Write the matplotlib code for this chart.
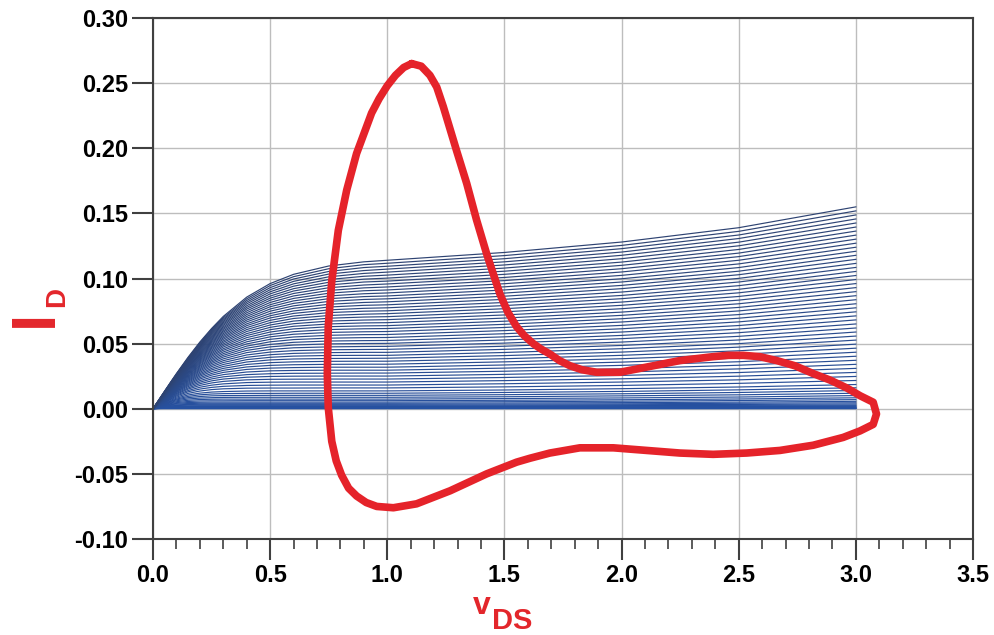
import matplotlib
matplotlib.use('Agg')
import matplotlib.pyplot as plt
from matplotlib.colors import to_rgb
from matplotlib.ticker import MultipleLocator, FormatStrFormatter

plt.rcParams['font.family'] = ['Liberation Sans', 'DejaVu Sans']
plt.rcParams['axes.unicode_minus'] = False

# drain voltage points (V)
vds = [0, 0.025, 0.05, 0.075, 0.1, 0.15, 0.2, 0.25, 0.3, 0.4, 0.5, 0.6, 0.75, 0.9,
       1.0, 1.5, 2.0, 2.5, 3.0]

# drain current of each curve, in units of 0.1 mA (lowest curves -> thick band near zero)
id_band = [
    [0, 1, 1, 1, 1, 1, 1, 1, 1, 1, 1, 1, 1, 1, 1, 1, 1, 1, 1],
    [0, 2, 2, 2, 2, 2, 2, 2, 2, 2, 2, 2, 2, 2, 2, 2, 2, 2, 2],
    [0, 2, 3, 3, 3, 3, 3, 3, 3, 3, 3, 3, 3, 3, 3, 3, 3, 3, 4],
    [0, 3, 4, 4, 4, 4, 4, 4, 4, 4, 4, 4, 4, 4, 4, 4, 4, 5, 5],
    [0, 4, 5, 6, 6, 6, 6, 6, 6, 6, 6, 6, 6, 6, 6, 6, 6, 7, 8],
    [0, 5, 7, 8, 8, 8, 8, 8, 8, 8, 8, 8, 8, 8, 8, 8, 9, 10, 11],
    [0, 6, 9, 10, 10, 10, 10, 10, 10, 10, 10, 10, 10, 10, 10, 11, 12, 13, 14],
    [0, 7, 11, 13, 13, 14, 14, 14, 14, 14, 14, 14, 14, 14, 14, 14, 15, 17, 19],
    [0, 8, 13, 15, 16, 17, 17, 17, 17, 17, 17, 17, 17, 17, 17, 18, 19, 21, 23],
    [0, 9, 15, 19, 20, 21, 22, 22, 22, 22, 22, 22, 22, 22, 22, 23, 24, 26, 29],
    [0, 10, 18, 22, 25, 27, 27, 27, 27, 27, 27, 27, 27, 27, 27, 29, 31, 33, 37],
    [0, 11, 20, 26, 30, 33, 34, 34, 34, 34, 34, 34, 34, 34, 34, 36, 38, 42, 46],
    [0, 13, 23, 31, 36, 40, 42, 42, 42, 42, 42, 42, 42, 42, 42, 44, 47, 51, 57],
    [0, 14, 26, 35, 41, 48, 50, 51, 51, 51, 51, 51, 51, 51, 51, 54, 58, 63, 70],
    [0, 15, 29, 40, 47, 56, 60, 61, 61, 62, 62, 62, 62, 62, 62, 65, 69, 75, 84],
    [0, 17, 32, 45, 54, 65, 71, 73, 74, 74, 74, 74, 74, 74, 74, 78, 83, 90, 101],
    [0, 18, 35, 50, 61, 75, 82, 85, 87, 88, 88, 88, 88, 88, 88, 92, 99, 107, 119],
    [0, 20, 39, 55, 68, 85, 94, 99, 101, 102, 103, 103, 103, 103, 103, 108, 115, 125, 140],
    [0, 22, 42, 59, 74, 95, 107, 113, 116, 118, 118, 119, 119, 119, 119, 125, 133, 145, 161],
]
id_main = [
    [0, 23, 45, 65, 81, 106, 120, 128, 132, 136, 137, 137, 137, 137, 137, 144, 154, 167, 186],
    [0, 25, 49, 71, 89, 118, 136, 147, 153, 158, 159, 159, 160, 160, 160, 168, 179, 195, 217],
    [0, 27, 52, 76, 97, 130, 151, 164, 172, 179, 181, 182, 182, 182, 182, 192, 205, 222, 248],
    [0, 28, 56, 81, 104, 140, 165, 181, 191, 201, 204, 205, 205, 205, 205, 216, 230, 250, 279],
    [0, 30, 59, 86, 111, 151, 179, 198, 210, 222, 226, 227, 228, 228, 228, 240, 256, 278, 310],
    [0, 31, 62, 91, 117, 160, 192, 214, 228, 242, 248, 250, 251, 251, 251, 264, 282, 306, 341],
    [0, 33, 65, 95, 123, 170, 204, 229, 245, 262, 269, 272, 273, 274, 274, 288, 307, 334, 372],
    [0, 34, 68, 99, 129, 179, 216, 243, 262, 282, 291, 294, 296, 296, 296, 312, 333, 361, 403],
    [0, 36, 70, 103, 134, 187, 228, 258, 279, 302, 312, 316, 319, 319, 319, 336, 358, 389, 434],
    [0, 37, 73, 107, 139, 195, 239, 271, 295, 321, 333, 338, 341, 342, 342, 360, 384, 417, 465],
    [0, 38, 75, 111, 144, 203, 250, 285, 310, 340, 354, 360, 364, 365, 365, 384, 410, 445, 496],
    [0, 39, 78, 115, 149, 211, 260, 298, 325, 359, 375, 382, 386, 387, 388, 408, 435, 473, 527],
    [0, 40, 80, 118, 154, 218, 270, 310, 340, 377, 395, 404, 409, 410, 410, 432, 461, 500, 558],
    [0, 42, 82, 122, 159, 225, 280, 323, 355, 395, 415, 425, 431, 433, 433, 456, 486, 528, 589],
    [0, 43, 84, 125, 163, 232, 290, 335, 369, 413, 435, 446, 453, 455, 456, 480, 512, 556, 620],
    [0, 44, 87, 128, 168, 239, 299, 347, 383, 431, 455, 468, 475, 478, 479, 504, 538, 584, 651],
    [0, 45, 89, 131, 172, 246, 308, 358, 397, 448, 475, 489, 498, 501, 502, 528, 563, 612, 682],
    [0, 46, 91, 135, 176, 252, 317, 369, 410, 465, 494, 510, 520, 523, 524, 552, 589, 639, 713],
    [0, 47, 93, 138, 180, 259, 326, 380, 423, 481, 514, 531, 542, 546, 547, 576, 614, 667, 744],
    [0, 48, 95, 141, 185, 265, 334, 391, 436, 498, 533, 551, 564, 569, 570, 600, 640, 695, 775],
    [0, 49, 97, 144, 188, 271, 343, 402, 449, 514, 552, 572, 586, 591, 593, 624, 666, 723, 806],
    [0, 50, 99, 146, 192, 277, 351, 412, 461, 530, 570, 592, 608, 614, 616, 648, 691, 751, 837],
    [0, 51, 101, 149, 196, 283, 359, 422, 474, 546, 589, 613, 630, 636, 638, 672, 717, 778, 868],
    [0, 51, 102, 152, 200, 289, 367, 432, 486, 562, 607, 633, 651, 659, 661, 696, 742, 806, 899],
    [0, 52, 104, 155, 204, 295, 375, 442, 498, 577, 625, 653, 673, 681, 684, 720, 768, 834, 930],
    [0, 53, 106, 158, 207, 300, 382, 452, 510, 593, 643, 673, 695, 704, 707, 744, 794, 862, 961],
    [0, 54, 108, 160, 211, 306, 390, 462, 521, 608, 661, 693, 716, 726, 730, 768, 819, 890, 992],
    [0, 55, 110, 163, 215, 311, 397, 471, 533, 623, 679, 712, 738, 749, 752, 792, 845, 917, 1023],
    [0, 56, 111, 165, 218, 317, 405, 480, 544, 638, 697, 732, 759, 771, 775, 816, 870, 945, 1054],
    [0, 57, 113, 168, 222, 322, 412, 490, 555, 652, 714, 751, 781, 794, 798, 840, 896, 973, 1085],
    [0, 58, 115, 171, 225, 327, 419, 499, 566, 667, 731, 771, 802, 816, 821, 864, 922, 1001, 1116],
    [0, 58, 116, 173, 228, 332, 426, 508, 577, 681, 749, 790, 824, 839, 844, 888, 947, 1029, 1147],
    [0, 59, 118, 176, 232, 338, 433, 516, 588, 695, 766, 809, 845, 861, 866, 912, 973, 1056, 1178],
    [0, 60, 120, 178, 235, 343, 440, 525, 598, 709, 783, 828, 866, 883, 889, 936, 998, 1084, 1209],
    [0, 61, 121, 181, 238, 348, 447, 534, 609, 723, 799, 847, 887, 906, 912, 960, 1024, 1112, 1240],
    [0, 62, 123, 183, 242, 353, 454, 543, 619, 737, 816, 866, 908, 928, 935, 984, 1050, 1140, 1271],
    [0, 62, 124, 185, 245, 358, 460, 551, 629, 751, 833, 885, 929, 950, 958, 1008, 1075, 1168, 1302],
    [0, 63, 126, 188, 248, 363, 467, 559, 640, 765, 849, 904, 950, 973, 980, 1032, 1101, 1195, 1333],
    [0, 64, 128, 190, 251, 367, 473, 568, 650, 778, 865, 922, 971, 995, 1003, 1056, 1126, 1223, 1364],
    [0, 65, 129, 192, 254, 372, 480, 576, 660, 791, 882, 941, 992, 1017, 1026, 1080, 1152, 1251, 1395],
    [0, 66, 131, 195, 257, 377, 486, 584, 670, 805, 898, 959, 1013, 1039, 1049, 1104, 1178, 1279, 1426],
    [0, 66, 132, 197, 261, 382, 493, 592, 680, 818, 914, 978, 1034, 1061, 1072, 1128, 1203, 1307, 1457],
    [0, 67, 134, 199, 264, 386, 499, 600, 689, 831, 930, 996, 1054, 1084, 1094, 1152, 1229, 1334, 1488],
    [0, 68, 135, 202, 267, 391, 506, 609, 699, 844, 946, 1014, 1075, 1106, 1117, 1176, 1254, 1362, 1519],
    [0, 69, 137, 204, 270, 396, 512, 616, 709, 857, 961, 1032, 1096, 1128, 1140, 1200, 1280, 1390, 1550],
]
ID_UNIT = 1e-4  # A

# hand-drawn red loop (V, A)
loop_x = [1.104, 1.07, 1.035, 1.0, 0.965, 0.933, 0.869, 0.827, 0.791, 0.763, 0.748, 0.744, 0.748, 0.763,
          0.782, 0.805, 0.835, 0.869, 0.91, 0.955, 1.026, 1.125, 1.268, 1.424, 1.552, 1.609, 1.694,
          1.822, 1.965, 2.107, 2.249, 2.391, 2.534, 2.676, 2.818, 2.946, 3.018, 3.074, 3.088, 3.074,
          3.018, 2.961, 2.89, 2.818, 2.74, 2.662, 2.59, 2.52, 2.455, 2.391, 2.249, 2.107, 1.993,
          1.894, 1.83, 1.78, 1.735, 1.694, 1.655, 1.623, 1.585, 1.552, 1.515, 1.481, 1.424, 1.381,
          1.339, 1.296, 1.239, 1.211, 1.182, 1.145, 1.104]
loop_y = [0.265, 0.262, 0.256, 0.248, 0.238, 0.227, 0.196, 0.168, 0.137, 0.098, 0.063, 0.027, 0.001, -0.025,
          -0.040, -0.051, -0.061, -0.067, -0.072, -0.075, -0.076, -0.073, -0.063, -0.050, -0.041, -0.038, -0.034,
          -0.030, -0.030, -0.032, -0.034, -0.035, -0.034, -0.032, -0.028, -0.022, -0.017, -0.012, -0.004, 0.005,
          0.010, 0.016, 0.022, 0.027, 0.033, 0.037, 0.040, 0.041, 0.041, 0.040, 0.037, 0.032, 0.028,
          0.028, 0.030, 0.033, 0.037, 0.042, 0.046, 0.050, 0.056, 0.063, 0.074, 0.088, 0.119, 0.145,
          0.173, 0.198, 0.232, 0.247, 0.256, 0.263, 0.265]

fig = plt.figure(figsize=(9.95, 6.35), dpi=100)
ax = fig.add_axes([153/995, 1-539/635, 820/995, 521/635])

# brighter blue at the bottom of the family, darker slate at the top
curves = id_band + id_main
c_lo, c_hi = to_rgb('#2553a8'), to_rgb('#2e4372')
for i, row in enumerate(curves):
    t = i / (len(curves) - 1)
    col = tuple(a + (b - a) * t for a, b in zip(c_lo, c_hi))
    ax.plot(vds, [v * ID_UNIT for v in row], color=col, lw=0.85)
ax.plot(loop_x, loop_y, color='#e5232a', lw=5.5, solid_joinstyle='round', solid_capstyle='round')

ax.set_xlim(0, 3.5)
ax.set_ylim(-0.10, 0.30)
ax.xaxis.set_major_locator(MultipleLocator(0.5))
ax.xaxis.set_minor_locator(MultipleLocator(0.1))
ax.yaxis.set_major_locator(MultipleLocator(0.05))
ax.xaxis.set_major_formatter(FormatStrFormatter('%.1f'))
ax.yaxis.set_major_formatter(FormatStrFormatter('%.2f'))
ax.grid(True, which='major', color='#bdbdbd', lw=1)
ax.set_axisbelow(True)
for sp in ax.spines.values():
    sp.set_color('#404040')
    sp.set_linewidth(1.5)
ax.tick_params(which='major', direction='out', length=15, width=1.5, color='#404040', labelsize=17, pad=3)
ax.tick_params(which='minor', axis='x', direction='out', length=7, width=1.2, color='#404040')
for lab in ax.get_xticklabels() + ax.get_yticklabels():
    lab.set_fontweight('bold')

red = '#e3262b'
fig.text(35/995, 1-318/635, 'I', rotation=90, color=red, fontsize=45, fontweight='bold', ha='center', va='center')
fig.text(57/995, 1-297/635, 'D', rotation=90, color=red, fontsize=20, fontweight='bold', ha='center', va='center')
fig.text(473/995, 1-614/635, 'v', color=red, fontsize=23, fontweight='bold', ha='left', va='baseline')
fig.text(492/995, 1-629/635, 'DS', color=red, fontsize=21, fontweight='bold', ha='left', va='baseline')

fig.savefig('out.png', dpi=100)
